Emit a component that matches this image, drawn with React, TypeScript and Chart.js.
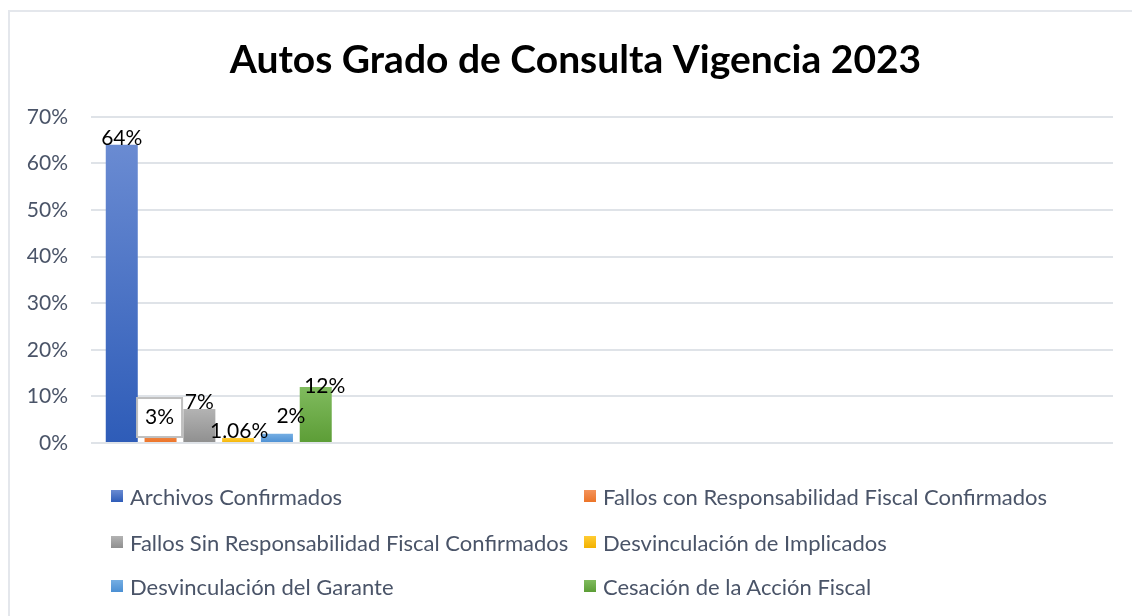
import React, { useEffect, useRef } from "react";
import { Chart, registerables } from "chart.js";

Chart.register(...registerables);

const categories = ["Vigencia 2023", "", "", ""];
const seriesNames = [
  "Archivos Confirmados",
  "Fallos con Responsabilidad Fiscal Confirmados",
  "Fallos Sin Responsabilidad Fiscal Confirmados",
  "Desvinculación de Implicados",
  "Desvinculación del Garante",
  "Cesación de la Acción Fiscal",
];
const seriesValues = [64, 3, 7.3, 1.06, 2, 12];
const valueLabels = ["64%", "3%", "7%", "1.06%", "2%", "12%"];
const yTicks = [0, 10, 20, 30, 40, 50, 60, 70];

// styling
const colorTop = ["#6a8bd2", "#f4935a", "#b3b3b3", "#ffcc33", "#75aee3", "#80bb5e"];
const colorBottom = ["#2e5cb8", "#ec7428", "#8f8f8f", "#f2b100", "#4b8fd3", "#5c9d36"];
const labelOffsets: [number, number][] = [[0, 4], [-1, -1], [0, 4], [1, 4], [14, -7], [9, 10]];
const labelBoxed = [false, true, false, false, false, false];

const FONT = "Lato, 'Open Sans', sans-serif";
const TEXT = "#4a5468";

const labelPlugin = {
  id: "valueLabels",
  afterDatasetsDraw(chart: any) {
    const c = chart.ctx;
    c.save();
    c.font = `21px ${FONT}`;
    c.textAlign = "center";
    c.textBaseline = "bottom";
    chart.data.datasets.forEach((ds: any, i: number) => {
      const meta = chart.getDatasetMeta(i);
      const el = meta.data[0];
      if (!el) return;
      const x = el.x + labelOffsets[i][0];
      const y = el.y + labelOffsets[i][1];
      const text = valueLabels[i];
      if (labelBoxed[i]) {
        const w = 45;
        const h = 39;
        c.fillStyle = "#ffffff";
        c.fillRect(x - w / 2, y - 30, w, h);
        c.strokeStyle = "#bfbfbf";
        c.lineWidth = 2;
        c.strokeRect(x - w / 2, y - 30, w, h);
      }
      c.fillStyle = "#000000";
      c.fillText(text, x, y);
    });
    c.restore();
  },
};

// let the y tick labels use the space left of the axis box
const yLabelSpacePlugin = {
  id: "yLabelSpace",
  afterLayout(chart: any) {
    if (chart.scales.y) chart.scales.y.left = 0;
  },
};

export default function App() {
  const ref = useRef<HTMLCanvasElement>(null);
  useEffect(() => {
    if (!ref.current) return;
    const makeBg = (i: number) => (ctx: any) => {
      const chart = ctx.chart;
      const { chartArea, scales } = chart;
      if (!chartArea || ctx.type !== "data" || ctx.raw == null) return colorBottom[i];
      const y1 = scales.y.getPixelForValue(ctx.raw);
      const y0 = scales.y.getPixelForValue(0);
      const g = chart.ctx.createLinearGradient(0, y1, 0, y0);
      g.addColorStop(0, colorTop[i]);
      g.addColorStop(1, colorBottom[i]);
      return g;
    };
    const chart = new Chart(ref.current, {
      type: "bar",
      data: {
        labels: categories,
        datasets: seriesNames.map((name, i) => ({
          label: name,
          data: categories.map((_, k) => (k === 0 ? seriesValues[i] : null)),
          backgroundColor: makeBg(i),
          borderWidth: 0,
          categoryPercentage: 0.911,
          barPercentage: 0.825,
        })),
      },
      options: {
        animation: false,
        responsive: true,
        maintainAspectRatio: false,
        layout: { padding: { left: 28, right: 19, top: 0, bottom: 173 } },
        plugins: {
          legend: { display: false },
          tooltip: { enabled: false },
          title: {
            display: true,
            text: "Autos Grado de Consulta Vigencia 2023",
            font: { family: FONT, size: 39, weight: "bold", lineHeight: 1.2 },
            color: "#000000",
            padding: { top: 25, bottom: 33 },
          },
        },
        scales: {
          x: { display: false },
          y: {
            min: 0,
            max: 70,
            afterFit: (s: any) => {
              s.width = 53;
            },
            afterBuildTicks: (s: any) => {
              s.ticks = yTicks.map((v) => ({ value: v }));
            },
            ticks: {
              callback: (v: any) => `${v}%`,
              font: { family: FONT, size: 21 },
              color: TEXT,
              padding: 23,
            },
            grid: { color: "#dfe3e8", lineWidth: 2, drawTicks: false },
            border: { display: false },
          },
        },
      },
      plugins: [yLabelSpacePlugin, labelPlugin],
    });
    return () => chart.destroy();
  }, []);

  const legendCols = [101, 574];
  const legendRows = [484, 530, 574];

  return (
    <div
      style={{
        position: "fixed",
        left: 8,
        top: 10,
        width: 1124,
        height: 606,
        borderTop: "2px solid #e4e7ec",
        borderLeft: "2px solid #e4e7ec",
        background: "#fff",
        fontFamily: FONT,
      }}
    >
      <div style={{ position: "absolute", left: 0, top: 0, width: 1122, height: 604 }}>
        <canvas ref={ref} />
      </div>
      {seriesNames.map((name, i) => (
        <div
          key={name}
          style={{
            position: "absolute",
            left: legendCols[i % 2],
            top: legendRows[Math.floor(i / 2)] - 13,
            height: 26,
            display: "flex",
            alignItems: "center",
            whiteSpace: "nowrap",
            fontSize: 22,
            color: TEXT,
          }}
        >
          <span
            style={{
              display: "inline-block",
              width: 12,
              height: 12,
              marginRight: 7,
              background: `linear-gradient(${colorTop[i]}, ${colorBottom[i]})`,
            }}
          />
          {name}
        </div>
      ))}
    </div>
  );
}
